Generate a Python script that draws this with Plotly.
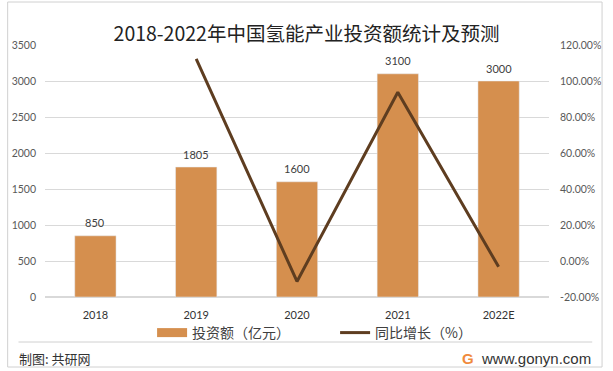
import plotly.graph_objects as go

years = ["2018", "2019", "2020", "2021", "2022E"]
investment = [850, 1805, 1600, 3100, 3000]
growth = [None, 112.35, -11.36, 93.75, -3.23]
left_ticks = [0, 500, 1000, 1500, 2000, 2500, 3000, 3500]
right_ticks = [-20, 0, 20, 40, 60, 80, 100, 120]

BAR = "#D58F4E"
LINE = "#5E3D20"
num_font = "Lato, Carlito, Liberation Sans, sans-serif"
cjk = "Noto Sans CJK SC, sans-serif"

fig = go.Figure()
fig.add_trace(go.Bar(
    x=years, y=investment, name="投资额（亿元）", marker_color=BAR, width=0.41,
    showlegend=False, legendgroup="inv",
))
# legend entry for the bars (wide swatch like the reference)
fig.add_trace(go.Scatter(
    x=[years[0]], y=[None], name="投资额（亿元）", mode="lines", legendgroup="inv",
    line=dict(color=BAR, width=9), hoverinfo="skip",
))
fig.add_trace(go.Scatter(
    x=years, y=growth, name="同比增长（%）", mode="lines", yaxis="y2",
    line=dict(color=LINE, width=3),
))

for i, v in enumerate(investment):
    fig.add_annotation(x=i, y=v, text=str(v), showarrow=False, yshift=13, yanchor="middle",
                       font=dict(size=11, color="#404040", family=num_font))

fig.update_layout(
    width=613, height=371,
    margin=dict(l=40, r=60, t=45, b=74),
    paper_bgcolor="white", plot_bgcolor="white",
    title=dict(text="2018-2022年中国氢能产业投资额统计及预测", x=0.5, xanchor="center",
               y=1 - 34 / 371, yanchor="middle",
               font=dict(size=19.5, color="#222222", family=cjk)),
    xaxis=dict(type="category", categoryorder="array", categoryarray=years, range=[-0.5, len(years) - 0.5],
               showgrid=False, showline=False, ticks="", ticklabelstandoff=10,
               tickfont=dict(size=11, color="#333333", family=num_font)),
    yaxis=dict(range=[0, 3500], tickvals=left_ticks, showgrid=True, gridcolor="#D9D9D9", gridwidth=1,
               zeroline=True, zerolinecolor="#D9D9D9", tickfont=dict(size=10.5, color="#595959", family=num_font),
               ticklabelstandoff=8),
    yaxis2=dict(range=[-20, 120], tickvals=right_ticks, ticktext=[f"{v:.2f}%" for v in right_ticks],
                overlaying="y", side="right", showgrid=False, zeroline=False,
                tickfont=dict(size=10.5, color="#595959", family=num_font), ticklabelstandoff=10),
    legend=dict(orientation="h", x=(159 - 40 - 10) / 513, xanchor="left", y=-(333 - 297) / 252, yanchor="middle",
                font=dict(size=14, color="#404040", family=cjk), traceorder="normal",
                itemwidth=30, entrywidth=138, bgcolor="rgba(0,0,0,0)"),
    showlegend=True,
)

fig.add_shape(type="rect", xref="paper", yref="paper", x0=-38 / 513, x1=(607 - 40) / 513,
              y0=-(367 - 297) / 252, y1=(297 - 2) / 252, line=dict(color="#D0D0D0", width=1))
fig.add_shape(type="line", xref="paper", yref="paper", x0=-27 / 513, x1=(597 - 40) / 513,
              y0=-(342 - 297) / 252, y1=-(342 - 297) / 252, line=dict(color="#D0D0D0", width=1))
fig.add_annotation(text="制图: 共研网", xref="paper", yref="paper", x=-28 / 513, xanchor="left",
                   y=-(358 - 297) / 252, yanchor="middle", showarrow=False,
                   font=dict(size=13, color="#333333", family=cjk))
fig.add_annotation(text="<b>G</b>", xref="paper", yref="paper", x=(471 - 40) / 513, xanchor="center",
                   y=-(358 - 297) / 252, yanchor="middle", showarrow=False,
                   font=dict(size=15, color="#F08A3C", family="Liberation Sans, sans-serif"))
fig.add_annotation(text="www.gonyn.com", xref="paper", yref="paper",
                   x=(598 - 40) / 513, xanchor="right",
                   y=-(358 - 297) / 252, yanchor="middle", showarrow=False,
                   font=dict(size=15, color="#333333", family="Liberation Sans, sans-serif"))

fig.write_html("out.html", config={"displayModeBar": False},
               post_script="document.body.style.margin='0';document.body.style.overflow='hidden';")
